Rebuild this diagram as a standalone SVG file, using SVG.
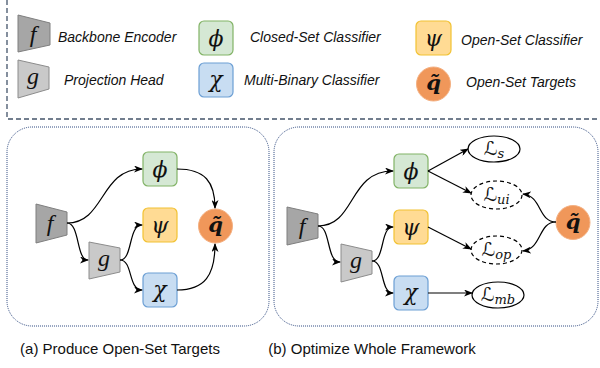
<svg xmlns="http://www.w3.org/2000/svg" width="600" height="368" viewBox="0 0 600 368">
<defs>
<marker id="arr" markerWidth="9" markerHeight="7" refX="8" refY="3.5" orient="auto" markerUnits="userSpaceOnUse">
<path d="M0,0 L9,3.5 L0,7 L2.5,3.5 z" fill="#000"/>
</marker>
<style>
.lbl{font-family:"Liberation Sans",Arial,sans-serif;font-style:italic;font-size:14px;fill:#111}
.cap{font-family:"Liberation Sans",Arial,sans-serif;font-size:15px;fill:#111}
.m{font-family:"Liberation Serif","DejaVu Serif",serif;font-style:italic;font-size:24px;fill:#111;text-anchor:middle}
.g{font-family:"DejaVu Serif",serif;font-style:italic;font-size:22px;fill:#111;text-anchor:middle}
.q{font-family:"DejaVu Serif",serif;font-style:italic;font-weight:bold;font-size:21px;fill:#111;text-anchor:middle}
.L{font-family:"DejaVu Sans","DejaVu Serif",serif;font-size:19px;fill:#111;text-anchor:middle}
.sub{font-family:"DejaVu Serif",serif;font-style:italic;font-size:13px}
.dk{fill:#a6a6a6;stroke:#7f7f7f;stroke-width:1}
.lt{fill:#c9c9c9;stroke:#8c8c8c;stroke-width:1}
.gr{fill:#d5e8d4;stroke:#82b366;stroke-width:1.2}
.ye{fill:#ffdb94;stroke:#f2c232;stroke-width:1.2}
.bl{fill:#c8ddf2;stroke:#6c9fd4;stroke-width:1.2}
.or{fill:#f0975a;stroke:#f4b183;stroke-width:1}
.c{fill:none;stroke:#000;stroke-width:1.2;marker-end:url(#arr)}
.es{fill:#fff;stroke:#000;stroke-width:1.2}
.ed{fill:#fff;stroke:#000;stroke-width:1.2;stroke-dasharray:4,3}
.panel{fill:none;stroke:#2f4a80;stroke-width:1;stroke-dasharray:1,1}
</style>
</defs>
<rect width="600" height="368" fill="#fff"/>

<!-- legend frame -->
<path d="M7,0 L7,119 L600,119" fill="none" stroke="#44546a" stroke-width="1.3" stroke-dasharray="5,3"/>

<g id="legend">
<g id="leg-f"><polygon class="dk" points="18,15 50,23 50,45 18,52"/><text class="m" x="33" y="42">f</text></g>
<text class="lbl" x="58" y="42">Backbone Encoder</text>
<g id="leg-g"><polygon class="lt" points="18,60 49,67 49,89 18,98"/><text class="m" x="33" y="84">g</text></g>
<text class="lbl" x="64" y="85">Projection Head</text>
<g id="leg-phi"><rect class="gr" x="199" y="21" width="34" height="34" rx="5"/><text class="g" x="216" y="46">ϕ</text></g>
<text class="lbl" x="250" y="42">Closed-Set Classifier</text>
<g id="leg-chi"><rect class="bl" x="199" y="63" width="34" height="34" rx="5"/><text class="g" x="216" y="87">χ</text></g>
<text class="lbl" x="244" y="85">Multi-Binary Classifier</text>
<g id="leg-psi"><rect class="ye" x="416" y="21" width="35" height="34" rx="5"/><text class="g" x="433.5" y="46">ψ</text></g>
<text class="lbl" x="461" y="45">Open-Set Classifier</text>
<g id="leg-q"><circle class="or" cx="433.5" cy="84" r="17"/><text class="q" x="433.5" y="90">q̃</text></g>
<text class="lbl" x="466" y="87">Open-Set Targets</text>
</g>

<!-- panels -->
<rect class="panel" x="7" y="127" width="262" height="199" rx="25"/>
<rect class="panel" x="274" y="127" width="324" height="199" rx="25"/>

<!-- panel (a) nodes -->
<g id="a-f"><polygon class="dk" points="36,204 67,212 67,235 36,243"/><text class="m" x="50" y="231">f</text></g>
<g id="a-g"><polygon class="lt" points="89,242 120,248 120,272 89,279"/><text class="m" x="104" y="266">g</text></g>
<g id="a-phi"><rect class="gr" x="143" y="152" width="34" height="34" rx="5"/><text class="g" x="160" y="177">ϕ</text></g>
<g id="a-psi"><rect class="ye" x="143" y="208" width="34" height="34" rx="5"/><text class="g" x="160" y="233">ψ</text></g>
<g id="a-chi"><rect class="bl" x="143" y="273" width="34" height="34" rx="5"/><text class="g" x="160" y="297">χ</text></g>
<g id="a-q"><circle class="or" cx="215.5" cy="226" r="17"/><text class="q" x="215.5" y="232">q̃</text></g>

<!-- panel (b) nodes -->
<g id="b-f"><polygon class="dk" points="287,207 318,214 318,238 287,245"/><text class="m" x="302" y="234">f</text></g>
<g id="b-g"><polygon class="lt" points="341,244 372,251 372,274 341,282"/><text class="m" x="356" y="268">g</text></g>
<g id="b-phi"><rect class="gr" x="394" y="154" width="34" height="34" rx="5"/><text class="g" x="411" y="179">ϕ</text></g>
<g id="b-psi"><rect class="ye" x="394" y="210" width="34" height="34" rx="5"/><text class="g" x="411" y="235">ψ</text></g>
<g id="b-chi"><rect class="bl" x="394" y="276" width="34" height="34" rx="5"/><text class="g" x="411" y="300">χ</text></g>
<g id="b-q"><circle class="or" cx="573" cy="222.5" r="17"/><text class="q" x="573" y="229">q̃</text></g>
<g id="b-Ls"><ellipse class="es" cx="494" cy="149" rx="26" ry="13"/><text class="L" x="494" y="155">ℒ<tspan class="sub" dy="3">s</tspan></text></g>
<g id="b-Lui"><ellipse class="ed" cx="496.5" cy="195" rx="25.5" ry="14"/><text class="L" x="496.5" y="201">ℒ<tspan class="sub" dy="3">ui</tspan></text></g>
<g id="b-Lop"><ellipse class="ed" cx="496.5" cy="250" rx="25.5" ry="14"/><text class="L" x="496.5" y="256">ℒ<tspan class="sub" dy="3">op</tspan></text></g>
<g id="b-Lmb"><ellipse class="es" cx="498" cy="295" rx="26" ry="13"/><text class="L" x="498" y="301">ℒ<tspan class="sub" dy="3">mb</tspan></text></g>

<g id="connectors">
<path class="c" d="M67,223 C105,223 100,169 142,169"/>
<path class="c" d="M67,223 C80,223 76,260 88,260"/>
<path class="c" d="M120,260 C133,260 128,225 142,225"/>
<path class="c" d="M120,260 C133,260 128,290 142,290"/>
<path class="c" d="M177,169 C205,169 215,182 215,208"/>
<path class="c" d="M177,290 C205,290 215,275 215,244"/>

<path class="c" d="M318,226 C356,226 348,171 393,171"/>
<path class="c" d="M318,226 C331,226 326,262 340,262"/>
<path class="c" d="M372,261 C385,261 380,227 393,227"/>
<path class="c" d="M372,261 C385,261 380,293 393,293"/>
<path class="c" d="M428,171 L468,149"/>
<path class="c" d="M428,171 L471,193"/>
<path class="c" d="M428,227 L471,249"/>
<path class="c" d="M428,293 L472,293"/>
<path class="c" d="M556,222 C538,222 542,196 523,194"/>
<path class="c" d="M556,222 C538,222 542,249 523,251"/>
</g>

<text class="cap" x="120" y="354" text-anchor="middle">(a) Produce Open-Set Targets</text>
<text class="cap" x="372" y="354" text-anchor="middle">(b) Optimize Whole Framework</text>
</svg>
